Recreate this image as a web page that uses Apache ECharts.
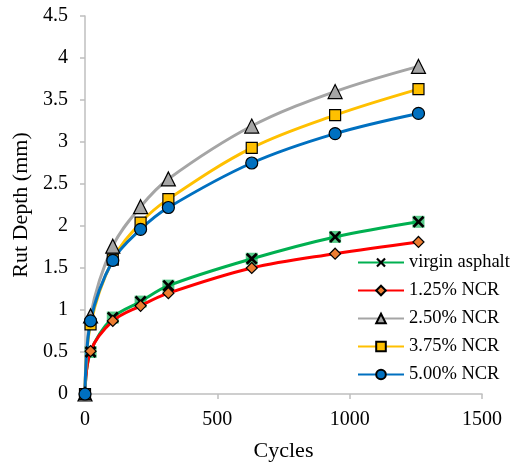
<!DOCTYPE html>
<html>
<head>
<meta charset="utf-8">
<script src="https://cdn.jsdelivr.net/npm/echarts@6/dist/echarts.min.js"></script>
<style>
html,body{margin:0;padding:0;background:#fff;}
#chart{width:516px;height:464px;}
</style>
</head>
<body>
<div id="chart"></div>
<script>
// ---- data ----
var cycles = [0, 21, 105, 210, 315, 630, 945, 1260];
var seriesNames = ['virgin asphalt', '1.25% NCR', '2.50% NCR', '3.75% NCR', '5.00% NCR'];
var virginAsphalt = [0, 0.50, 0.91, 1.10, 1.29, 1.61, 1.87, 2.05];
var ncr125 = [0, 0.51, 0.87, 1.05, 1.20, 1.50, 1.67, 1.81];
var ncr250 = [0, 0.93, 1.76, 2.23, 2.56, 3.19, 3.60, 3.90];
var ncr375 = [0, 0.83, 1.60, 2.04, 2.32, 2.93, 3.32, 3.63];
var ncr500 = [0, 0.87, 1.59, 1.96, 2.22, 2.75, 3.10, 3.34];
var xTitle = 'Cycles';
var yTitle = 'Rut Depth (mm)';

function pairs(ys) { return cycles.map(function (x, i) { return [x, ys[i]]; }); }

var FONT = 'Liberation Serif, Times New Roman, serif';
var XPATH = 'path://M0 1.6 L1.6 0 L5 3.4 L8.4 0 L10 1.6 L6.6 5 L10 8.4 L8.4 10 L5 6.6 L1.6 10 L0 8.4 L3.4 5 Z';
var SM = 0.35;

var chart = echarts.init(document.getElementById('chart'), null, {renderer: 'canvas'});
chart.setOption({
  backgroundColor: '#ffffff',
  animation: false,
  grid: {left: 85, right: 34, top: 16, bottom: 70, containLabel: false, outerBoundsMode: 'none'},
  xAxis: {
    type: 'value', min: 0, max: 1500, interval: 500,
    name: xTitle, nameLocation: 'middle', nameGap: 46,
    nameTextStyle: {fontFamily: FONT, fontSize: 22, color: '#000'},
    axisLine: {show: true, lineStyle: {color: '#BFBFBF', width: 1.5}},
    axisTick: {show: true, length: 5, lineStyle: {color: '#BFBFBF', width: 1.5}},
    axisLabel: {fontFamily: FONT, fontSize: 20, color: '#000', margin: 16,
      formatter: function (v) { return String(v); }},
    splitLine: {show: false}
  },
  yAxis: {
    type: 'value', min: 0, max: 4.5, interval: 0.5,
    name: yTitle, nameLocation: 'middle', nameGap: 42, nameRotate: 90,
    nameTextStyle: {fontFamily: FONT, fontSize: 22, color: '#000'},
    axisLine: {show: true, lineStyle: {color: '#BFBFBF', width: 1.5}},
    axisTick: {show: true, length: 5, lineStyle: {color: '#BFBFBF', width: 1.5}},
    axisLabel: {fontFamily: FONT, fontSize: 20, color: '#000', margin: 17},
    splitLine: {show: false}
  },
  legend: {
    orient: 'vertical', left: 357, top: 253, padding: 0,
    itemWidth: 46, itemHeight: 12, itemGap: 9,
    textStyle: {fontFamily: FONT, fontSize: 18.5, color: '#000'},
    data: seriesNames
  },
  series: [
    {
      name: '_bg', type: 'scatter', data: pairs(virginAsphalt),
      symbol: 'rect', symbolSize: 12,
      itemStyle: {color: '#2DBE6C'}, silent: true, z: 2
    },
    {
      name: seriesNames[0], type: 'line', data: pairs(virginAsphalt), smooth: SM,
      symbol: XPATH, symbolSize: 12, showAllSymbol: true,
      lineStyle: {color: '#00B050', width: 3},
      itemStyle: {color: '#000000'}, z: 3
    },
    {
      name: seriesNames[1], type: 'line', data: pairs(ncr125), smooth: SM,
      symbol: 'diamond', symbolSize: 11, showAllSymbol: true,
      lineStyle: {color: '#FF0000', width: 3},
      itemStyle: {color: '#ED7D31', borderColor: '#000', borderWidth: 1.2}, z: 3
    },
    {
      name: seriesNames[2], type: 'line', data: pairs(ncr250), smooth: SM,
      symbol: 'triangle', symbolSize: 14, showAllSymbol: true,
      lineStyle: {color: '#A5A5A5', width: 3},
      itemStyle: {color: '#A5A5A5', borderColor: '#000', borderWidth: 1.2}, z: 3
    },
    {
      name: seriesNames[3], type: 'line', data: pairs(ncr375), smooth: SM,
      symbol: 'rect', symbolSize: 11, showAllSymbol: true,
      lineStyle: {color: '#FFC000', width: 3},
      itemStyle: {color: '#FFC000', borderColor: '#000', borderWidth: 1.2}, z: 3
    },
    {
      name: seriesNames[4], type: 'line', data: pairs(ncr500), smooth: SM,
      symbol: 'circle', symbolSize: 12, showAllSymbol: true,
      lineStyle: {color: '#0070C0', width: 3},
      itemStyle: {color: '#0070C0', borderColor: '#000', borderWidth: 1.2}, z: 3
    }
  ]
});
</script>
</body>
</html>
